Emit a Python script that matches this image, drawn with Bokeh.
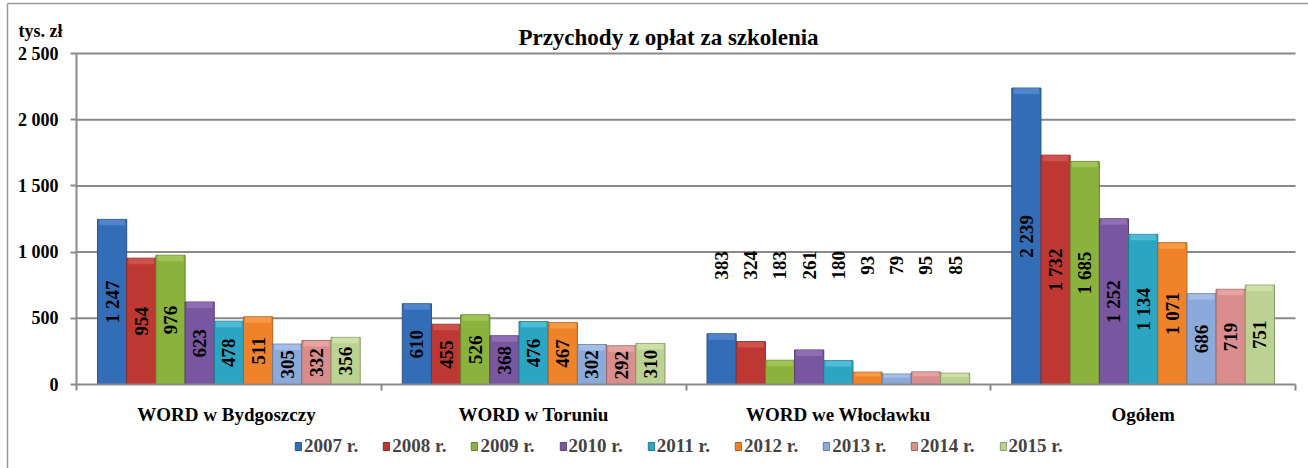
import math
from bokeh.plotting import figure
from bokeh.models import (ColumnDataSource, Range1d, FixedTicker, LabelSet, Label,
                          Legend, LegendItem)
from bokeh.core.properties import value
from bokeh.embed import file_html
from bokeh.resources import INLINE

title_text = "Przychody z opłat za szkolenia"
unit_text = "tys. zł"
categories = ["WORD  w Bydgoszczy", "WORD w Toruniu", "WORD we Włocławku", "Ogółem"]
years = ["2007 r.", "2008 r.", "2009 r.", "2010 r.", "2011 r.", "2012 r.", "2013 r.", "2014 r.", "2015 r."]
v2007 = [1247, 610, 383, 2239]
v2008 = [954, 455, 324, 1732]
v2009 = [976, 526, 183, 1685]
v2010 = [623, 368, 261, 1252]
v2011 = [478, 476, 180, 1134]
v2012 = [511, 467, 93, 1071]
v2013 = [305, 302, 79, 686]
v2014 = [332, 292, 95, 719]
v2015 = [356, 310, 85, 751]
series = [v2007, v2008, v2009, v2010, v2011, v2012, v2013, v2014, v2015]
y_ticks = [0, 500, 1000, 1500, 2000, 2500]
y_tick_labels = ["0", "500", "1 000", "1 500", "2 000", "2 500"]

colors = ["#336db7", "#bd3833", "#8ab23c", "#7856a0", "#2ca5c2", "#f0832a", "#8caad9", "#d98d8c", "#bbd292"]
edges = ["#2b5487", "#8c2b27", "#66822e", "#594075", "#227a8f", "#b0601e", "#687d9e", "#9e6867", "#8a9a6b"]
caps = ["#6d9be0", "#e06a65", "#b6d870", "#a585cc", "#6fd1ea", "#ffb060", "#bcd2f5", "#f5b8b7", "#dcefb8"]

FONT = "Liberation Serif"
GRID = "#8a8a8a"

# canvas / plot-area geometry (pixels)
W, H = 1308, 468
PL, PR, PT, PB = 76, 1295, 53, 384
n_cat = len(categories)
y_max = y_ticks[-1]
px_x = (PR - PL) / n_cat
px_y = (PB - PT) / y_max
x_start, x_end = -PL / px_x, n_cat + (W - PR) / px_x
y_start, y_end = -(H - PB) / px_y, y_max + PT / px_y


def dx(px):
    return x_start + px / px_x


def dy(py):
    return y_end - py / px_y


p = figure(width=W, height=H, output_backend="svg", toolbar_location=None,
           x_range=Range1d(x_start, x_end), y_range=Range1d(y_start, y_end),
           min_border=0)
p.outline_line_color = None
p.background_fill_color = "white"
p.xgrid.visible = False
p.ygrid.visible = False

# outer chart border (top and left edges)
p.segment(x0=[dx(7), dx(7)], y0=[dy(3), dy(3)], x1=[dx(7), dx(W)], y1=[dy(H), dy(3)],
          line_color="#9a9a9a", line_width=1.5)

# horizontal gridlines
p.segment(x0=[0] * (len(y_ticks) - 1), x1=[n_cat] * (len(y_ticks) - 1),
          y0=y_ticks[1:], y1=y_ticks[1:], line_color=GRID, line_width=2)

# y axis
p.yaxis.fixed_location = 0
p.yaxis.bounds = (0, y_max)
p.yaxis.ticker = FixedTicker(ticks=y_ticks)
p.yaxis.major_label_overrides = {t: l for t, l in zip(y_ticks, y_tick_labels)}
p.yaxis.major_label_text_font = FONT
p.yaxis.major_label_text_font_style = "bold"
p.yaxis.major_label_text_font_size = "18px"
p.yaxis.major_label_text_color = "black"
p.yaxis.major_label_standoff = 12
p.yaxis.major_tick_out = 6
p.yaxis.major_tick_in = 0
p.yaxis.minor_tick_line_color = None
p.yaxis.axis_line_color = GRID
p.yaxis.axis_line_width = 2
p.yaxis.major_tick_line_color = GRID
p.yaxis.major_tick_line_width = 2

# x axis: labels at group centres, tick marks at group boundaries
centers = [i + 0.5 for i in range(n_cat)]
p.xaxis.fixed_location = 0
p.xaxis.bounds = (0, n_cat)
p.xaxis.ticker = FixedTicker(ticks=centers, minor_ticks=list(range(n_cat + 1)))
p.xaxis.major_label_overrides = {c: n for c, n in zip(centers, categories)}
p.xaxis.major_label_text_font = FONT
p.xaxis.major_label_text_font_style = "bold"
p.xaxis.major_label_text_font_size = "19px"
p.xaxis.major_label_text_color = "black"
p.xaxis.major_tick_line_color = None
p.xaxis.major_tick_out = 0
p.xaxis.major_tick_in = 0
p.xaxis.major_label_standoff = 13
p.xaxis.minor_tick_out = 6
p.xaxis.minor_tick_in = 0
p.xaxis.minor_tick_line_color = GRID
p.xaxis.minor_tick_line_width = 2
p.xaxis.axis_line_color = GRID
p.xaxis.axis_line_width = 2

group_pad = 0.069
bw = (1 - 2 * group_pad) / len(series)
lab_x, lab_y, lab_t = [], [], []
items = []
for j, (vals, yr) in enumerate(zip(series, years)):
    xs = [i + group_pad + (j + 0.5) * bw for i in range(n_cat)]
    src = ColumnDataSource(dict(x=xs, top=vals, cap=[v - min(45, v * 0.35) for v in vals]))
    r = p.vbar(x="x", top="top", bottom=0, width=bw, source=src,
               fill_color=colors[j], line_color=edges[j], line_width=1)
    p.vbar(x="x", top="top", bottom="cap", width=bw * 0.88, source=src,
           fill_color=caps[j], fill_alpha=0.5, line_color=None)
    items.append(LegendItem(label=yr, renderers=[r]))
    for i, v in enumerate(vals):
        lab_x.append(xs[i])
        lab_y.append(900 if categories[i] == "WORD we Włocławku" else v / 2)
        lab_t.append(f"{v:,}".replace(",", " "))

lsrc = ColumnDataSource(dict(x=lab_x, y=lab_y, t=lab_t))
p.add_layout(LabelSet(x="x", y="y", text="t", source=lsrc, angle=math.pi / 2,
                      text_align="center", text_baseline="middle",
                      text_font=value(FONT), text_font_style="bold", text_font_size="19px",
                      text_color="black"))

p.add_layout(Label(x=dx(668), y=dy(37), text=title_text, text_align="center",
                   text_baseline="middle", text_font=FONT, text_font_style="bold",
                   text_font_size="23px", text_color="black"))
p.add_layout(Label(x=dx(18), y=dy(30), text=unit_text, text_align="left",
                   text_baseline="middle", text_font=FONT, text_font_style="bold",
                   text_font_size="18px", text_color="black"))

legend = Legend(items=items, orientation="horizontal", location=(294, 11),
                glyph_width=8, glyph_height=10, label_standoff=2, spacing=24,
                label_text_font=FONT, label_text_font_style="bold",
                label_text_font_size="19px", border_line_color=None,
                background_fill_alpha=0, padding=0, margin=0)
p.add_layout(legend, "center")

open("out.html", "w").write(file_html(p, INLINE))
